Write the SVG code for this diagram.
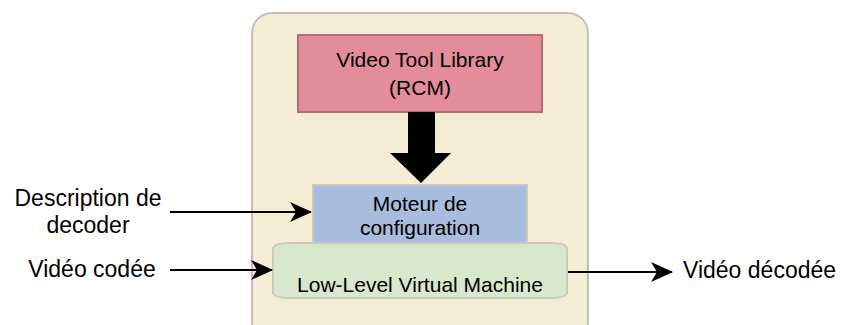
<svg xmlns="http://www.w3.org/2000/svg" width="842" height="325" viewBox="0 0 842 325">
<defs>
<marker id="ah" viewBox="0 0 22 20" markerWidth="22" markerHeight="20" refX="21" refY="10" orient="auto" markerUnits="userSpaceOnUse">
<path d="M0,0 L22,10 L0,20 L6,10 Z" fill="#000"/>
</marker>
</defs>
<style>
text{font-family:"Liberation Sans",Arial,sans-serif;fill:#000;text-anchor:middle}
.lbl{font-size:23px}
.node{font-size:21px}
.conn{stroke:#000;stroke-width:2;fill:none;marker-end:url(#ah)}
</style>
<rect x="252" y="13" width="336" height="330" rx="20" fill="#f5edd3" stroke="#c4bfba" stroke-width="2"/>
<g id="vtl">
<rect x="298" y="35" width="244" height="77" fill="#e38d9b" stroke="#b06c78" stroke-width="2"/>
<text class="node" x="420" y="67">Video Tool Library</text>
<text class="node" x="420" y="95">(RCM)</text>
</g>
<g id="moteur">
<rect x="313" y="185" width="214" height="63" fill="#a8bcde" stroke="#cbc9c0" stroke-width="2"/>
<text class="node" x="420" y="211">Moteur de</text>
<text class="node" x="420" y="235">configuration</text>
</g>
<g id="llvm">
<path d="M273,249 Q273,243 290,243 L551,243 Q567,243 567,249 L567,292 Q567,298 551,298 L290,298 Q273,298 273,292 Z" fill="#d4e7cc" fill-opacity="0.93" stroke="#c9c9bd" stroke-width="2"/>
<text class="node" x="420" y="292">Low-Level Virtual Machine</text>
</g>
<g id="labels">
<text class="lbl" x="88" y="206">Description de</text>
<text class="lbl" x="88" y="233">decoder</text>
<text class="lbl" x="92" y="277">Vidéo codée</text>
<text class="lbl" x="683" y="278" style="text-anchor:start">Vidéo décodée</text>
</g>
<g id="connectors">
<polygon points="408,112 435,112 435,153 451,153 421,183 390,153 408,153" fill="#000"/>
<line class="conn" x1="170" y1="212" x2="311" y2="212"/>
<line class="conn" x1="170" y1="270" x2="272" y2="270"/>
<line class="conn" x1="568" y1="272" x2="672" y2="272"/>
</g>
</svg>
